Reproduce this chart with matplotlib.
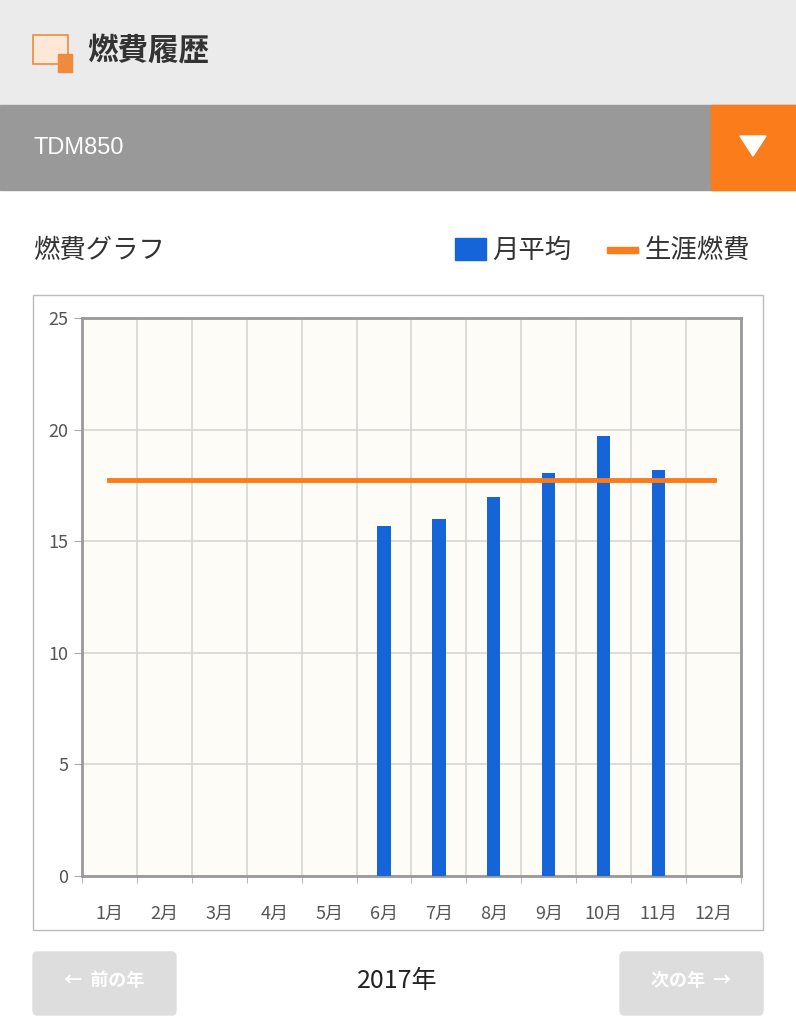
import matplotlib

matplotlib.use("Agg")
import matplotlib.pyplot as plt
from matplotlib.patches import Rectangle, FancyBboxPatch, Polygon

plt.rcParams["font.family"] = ["Noto Sans CJK JP", "DejaVu Sans"]

months = ["1月", "2月", "3月", "4月", "5月", "6月", "7月", "8月", "9月", "10月", "11月", "12月"]
monthly_avg = [None, None, None, None, None, 15.7, 16.0, 17.0, 18.05, 19.7, 18.2, None]
lifetime_avg = 17.75
y_ticks = [0, 5, 10, 15, 20, 25]

W, H = 796, 1024
fig = plt.figure(figsize=(W / 100, H / 100), dpi=100)


def box(x0, y0, x1, y1):
    # pixel box (top-left origin) -> figure fraction rect
    return [x0 / W, 1 - y1 / H, (x1 - x0) / W, (y1 - y0) / H]


def rect(x0, y0, x1, y1, **kw):
    l, b, w, h = box(x0, y0, x1, y1)
    fig.patches.append(Rectangle((l, b), w, h, transform=fig.transFigure, **kw))


def txt(x, y, s, **kw):
    fig.text(x / W, 1 - y / H, s, **kw)


# header
rect(0, 0, W, 105, color="#ebebeb")
rect(0, 105, W, 190, color="#999999")
rect(711, 105, W, 190, color="#fb7c1b")
fig.patches.append(Polygon([(740 / W, 1 - 136 / H), (766 / W, 1 - 136 / H), (753 / W, 1 - 156 / H)],
                           closed=True, transform=fig.transFigure, color="white"))
# icon
rect(33, 35, 68, 64, facecolor="#fde7d6", edgecolor="#f08a3c", lw=1.2)
rect(58, 54, 72, 72, facecolor="#f08a3c", edgecolor="#f08a3c")
txt(87, 52, "燃費履歴", fontsize=22, fontweight="bold", color="#333333", va="center")
txt(33, 148, "TDM850", fontsize=17, color="white", va="center",
    family=["Liberation Sans", "DejaVu Sans"])

# chart title & legend
txt(33, 250, "燃費グラフ", fontsize=19, color="#333333", va="center")
rect(455, 238, 486, 260, color="#1565d8")
txt(492, 250, "月平均", fontsize=19, color="#333333", va="center")
rect(607, 247, 638, 253, color="#fb7c1b")
txt(645, 250, "生涯燃費", fontsize=19, color="#333333", va="center")

# chart frame
rect(33, 295, 763, 930, facecolor="white", edgecolor="#bbbbbb", lw=1)

ax = fig.add_axes(box(82, 318, 741, 876))
ax.set_zorder(5)
ax.set_facecolor("#fdfcf7")
x = list(range(len(months)))
for i, v in enumerate(monthly_avg):
    if v is not None:
        ax.bar(i, v, width=0.24, color="#1565d8", zorder=3)
ax.plot([0, 11], [lifetime_avg, lifetime_avg], color="#fb7c1b", lw=3.5, zorder=4)
ax.set_xlim(-0.5, 11.5)
ax.set_ylim(0, 25)
ax.set_yticks(y_ticks)
ax.set_xticks(x)
ax.set_xticklabels(months)
ax.set_xticks([i + 0.5 for i in range(-1, 12)], minor=True)
ax.grid(True, axis="y", color="#d6d6d6", lw=1.2, zorder=0)
ax.grid(True, axis="x", which="minor", color="#d6d6d6", lw=1.2, zorder=0)
ax.tick_params(axis="x", which="major", length=0, labelsize=13, colors="#555555", pad=21)
ax.tick_params(axis="x", which="minor", length=5, color="#aaaaaa")
ax.tick_params(axis="y", length=6, color="#aaaaaa", labelsize=13, labelcolor="#555555", pad=4)
for s in ax.spines.values():
    s.set_color("#999999")
    s.set_linewidth(2)

# footer
for x0, x1, label in [(33, 176, "←  前の年"), (620, 763, "次の年  →")]:
    l, b, w, h = box(x0, 952, x1, 1015)
    fig.patches.append(FancyBboxPatch((l, b), w, h, boxstyle="round,pad=0,rounding_size=0.005",
                                      transform=fig.transFigure, color="#dddddd"))
    txt((x0 + x1) / 2, 981, label, fontsize=13, color="white", ha="center", va="center", fontweight="bold")
txt(397, 981, "2017年", fontsize=18, color="#222222", ha="center", va="center")

fig.savefig("out.png", dpi=100)
